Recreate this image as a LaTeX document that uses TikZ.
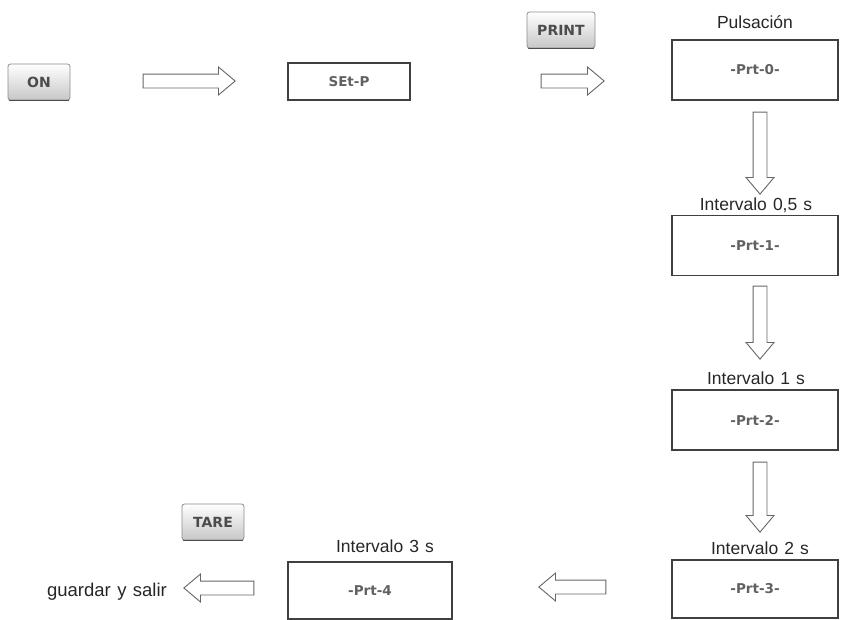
\documentclass[tikz,border=0pt]{standalone}
\usepackage{fontspec}
\setmainfont[WordSpace=1.25]{Liberation Sans}
\newfontfamily\dispfont{DejaVu Sans}
\newfontfamily\keyfont{DejaVu Sans}
\usetikzlibrary{shapes.arrows,calc}
\begin{document}
\begin{tikzpicture}[x=1pt,y=-1pt,
  dispbox/.style={draw=black!75,line width=1.1pt,fill=white,minimum width=166pt,minimum height=60pt,inner sep=0pt,
    font=\dispfont\fontsize{13.5}{15}\selectfont\bfseries,text=black!62},
  keybtn/.style={draw=black!45,line width=0.8pt,rounded corners=2.5pt,top color=white,bottom color=black!22,
    minimum width=62pt,minimum height=36pt,inner sep=0pt,font=\keyfont\fontsize{14}{16}\selectfont\bfseries,text=black!70},
  lbl/.style={font=\fontsize{17.5}{20}\selectfont,text=black!85,inner sep=0pt},
  barrow/.style={single arrow,draw=black!60,line width=0.9pt,fill=white,inner xsep=0pt,inner ysep=6.5pt,
    single arrow head extend=7pt,single arrow tip angle=80,minimum width=27pt},
]
\useasboundingbox (0,0) rectangle (868,619);

% keys
\node[keybtn] (on) at (39,82) {ON};
\node[keybtn,minimum width=68pt] (print) at (561,30) {PRINT};
\node[keybtn] (tare) at (213,522) {TARE};
\foreach \k in {on,print,tare}
  \draw[black!70,line width=1.4pt,line cap=round] ([xshift=2pt]\k.south west) -- ([xshift=-2pt]\k.south east);

% display readings
\node[dispbox,minimum width=122pt,minimum height=37pt] (setp) at (349,81.5) {SEt-P};
\node[dispbox] (prt0) at (755,70) {-Prt-0-};
\node[dispbox] (prt1) at (755,245.5) {-Prt-1-};
\node[dispbox] (prt2) at (755,420) {-Prt-2-};
\node[dispbox,minimum height=58pt] (prt3) at (755,589) {-Prt-3-};
\node[dispbox,minimum width=164pt,minimum height=57pt] (prt4) at (370,590.5) {-Prt-4};

% captions
\node[lbl] (c0) at (755,22) {Pulsación};
\node[lbl] (c1) at (756,205) {Intervalo 0,5 s};
\node[lbl] (c2) at (756,378) {Intervalo 1 s};
\node[lbl] (c3) at (760,548) {Intervalo 2 s};
\node[lbl] (c4) at (385,546) {Intervalo 3 s};
\node[lbl,font=\fontsize{18.5}{21}\selectfont] (exit) at (107,592) {guardar y salir};

% block arrows between the steps
\node[barrow,minimum height=92pt] (a1) at (185,81) {};
\node[barrow,minimum height=63pt] (a2) at (568.5,81) {};
\node[barrow,minimum height=82pt,rotate=-90] (d1) at (760,149) {};
\node[barrow,minimum height=73pt,rotate=-90] (d2) at (760,318.5) {};
\node[barrow,minimum height=70pt,rotate=-90] (d3) at (760,493) {};
\node[barrow,minimum height=67pt,rotate=180] (l1) at (576.5,587) {};
\node[barrow,minimum height=70pt,rotate=180] (l2) at (223,588) {};
\end{tikzpicture}
\end{document}
